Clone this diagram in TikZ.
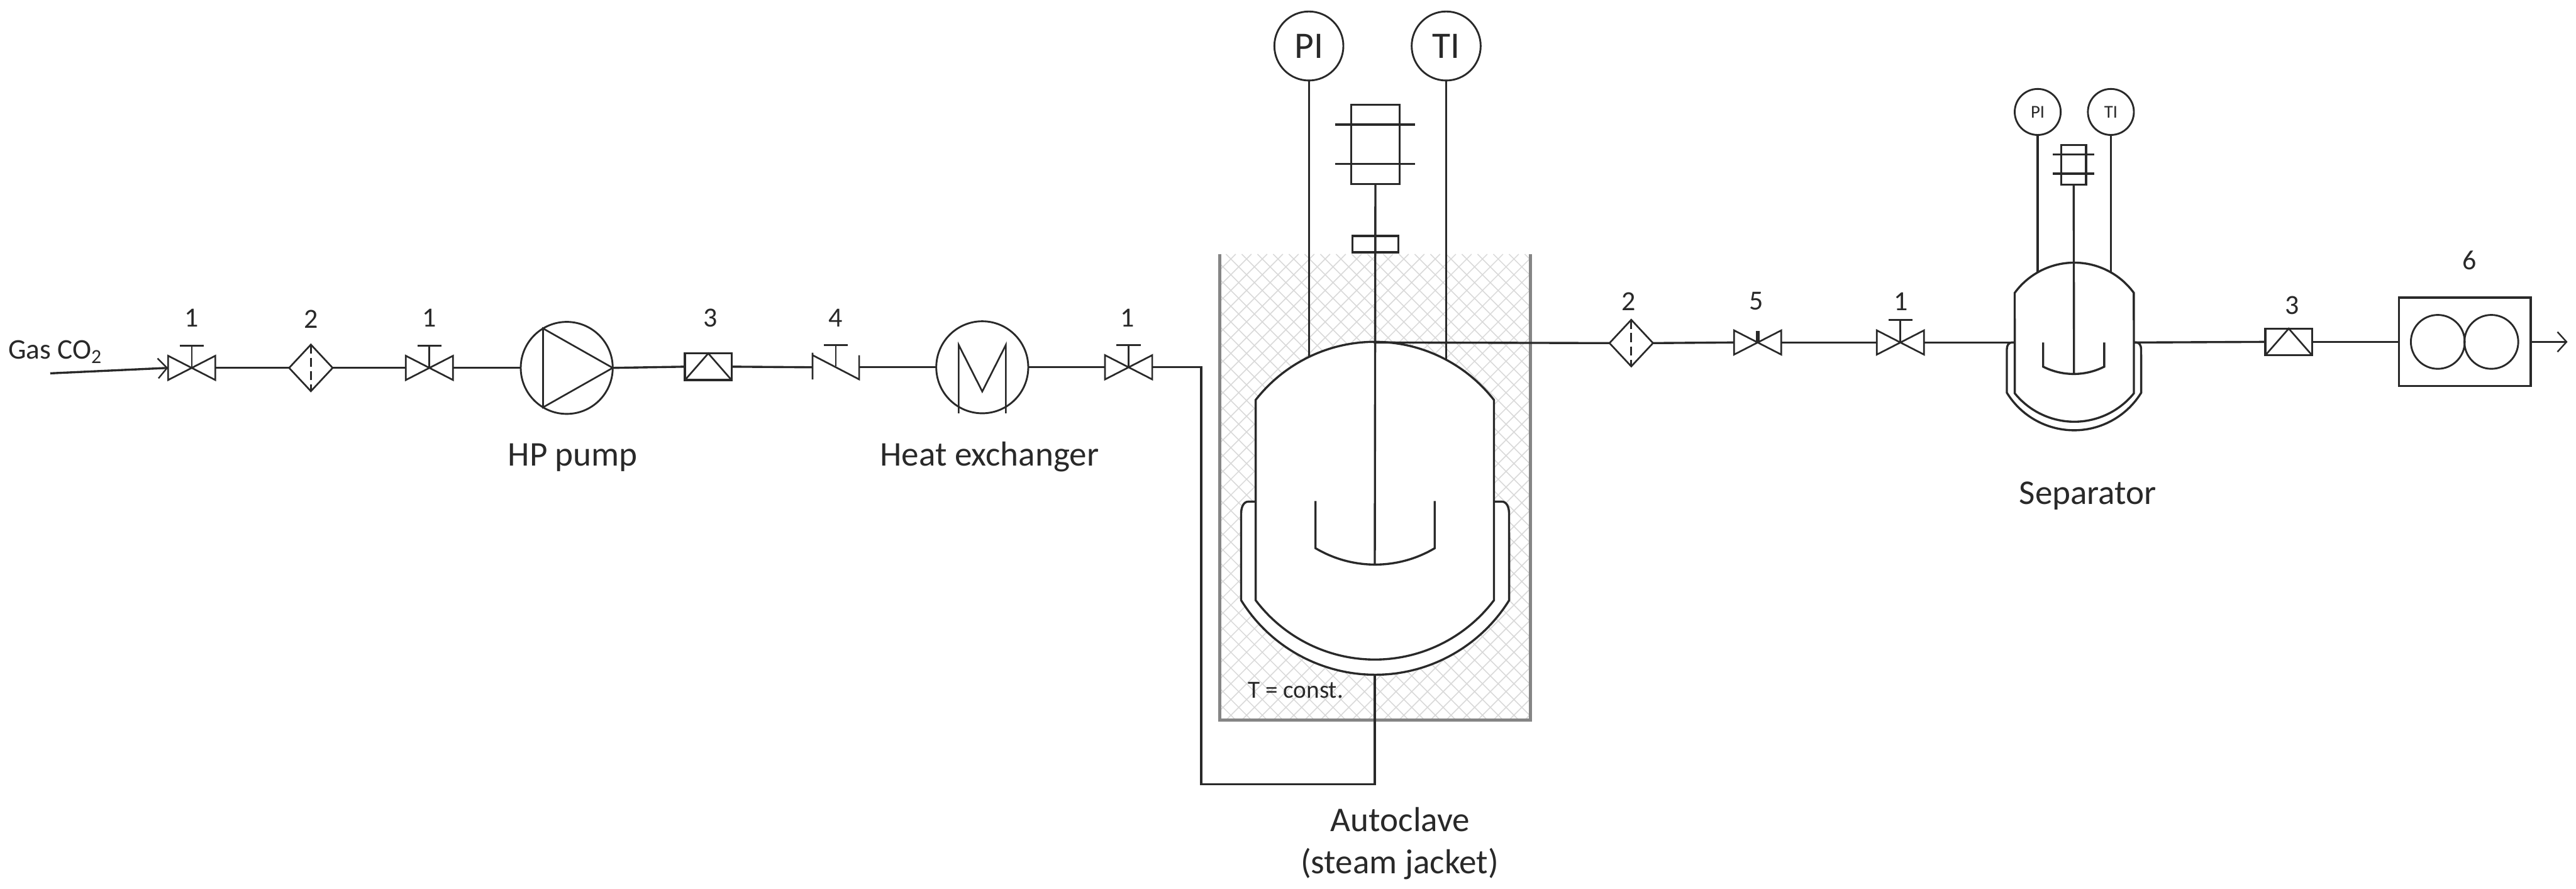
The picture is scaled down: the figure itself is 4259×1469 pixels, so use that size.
\documentclass[tikz,border=0pt]{standalone}
\usepackage{fontspec}
\setmainfont{Carlito}
\usetikzlibrary{arrows.meta}
\definecolor{ink}{gray}{0.16}
\definecolor{wall}{gray}{0.52}
\definecolor{hatch}{gray}{0.85}
\newcommand{\pxfont}[1]{\fontsize{#1}{#1}\selectfont}
\tikzset{
  x=0.01cm,y=-0.01cm,
  pipe/.style={draw=ink,line width=0.035cm},
  thin pipe/.style={draw=ink,line width=0.028cm},
  port/.style={inner sep=0pt,outer sep=0pt},
  vport/.style={port,minimum width=0.78cm,minimum height=0.38cm},
  flow/.style={pipe,-{Straight Barb[length=0.15cm,width=0.33cm,line width=0.025cm]}},
  ring/.style={circle,draw=ink,line width=0.03cm,inner sep=0pt,outer sep=0pt},
  numlabel/.style={inner sep=0pt,font=\pxfont{13pt},text=ink},
  captext/.style={inner sep=0pt,anchor=base,font=\pxfont{16.3pt},text=ink},
  gatevalve/.pic={
    \node[vport] (-b) at (0,0) {};
    \draw[thin pipe,fill=white] (-39,-20) -- (39,20) -- (39,-20) -- (-39,20) -- cycle;
    \draw[thin pipe] (0,0) -- (0,-37) (-20,-37) -- (20,-37);
  },
  needlevalve/.pic={
    \node[vport] (-b) at (0,0) {};
    \draw[thin pipe,fill=white] (-39,-20) -- (39,20) -- (39,-20) -- (-39,20) -- cycle;
    \draw[draw=ink,line width=0.06cm] (0,0) -- (0,-19);
  },
  filterbox/.pic={
    \node[port,minimum width=0.72cm,minimum height=0.77cm] (-b) at (0,0) {};
    \draw[thin pipe,fill=white] (-36,0) -- (0,-38.5) -- (36,0) -- (0,38.5) -- cycle;
    \draw[thin pipe,dash pattern=on 0.15cm off 0.07cm] (0,-38.5) -- (0,38.5);
  },
  checkbox/.pic={
    \node[port,draw=ink,line width=0.035cm,fill=white,minimum width=0.77cm,minimum height=0.44cm] (-b) at (0,0) {};
    \draw[thin pipe] (-38.5,22) -- (0,-22) -- (38.5,22);
  },
  nrvalve/.pic={
    \node[port,minimum width=0.77cm,minimum height=0.4cm] (-b) at (0,0) {};
    \draw[thin pipe] (-38.5,-24) -- (-38.5,20) (-38.5,-20) -- (38.5,20) -- (38.5,-20);
    \draw[thin pipe] (0,-2) -- (0,-37) (-20,-37) -- (20,-37);
  },
}
\begin{document}
\begin{tikzpicture}
\useasboundingbox[fill=white] (0,0) rectangle (4259,1469);

% --- tank with hatched bath
\begin{scope}
  \clip (2017,420) rectangle (2530,1190);
  \foreach \c in {1247,1273,...,2530}{
    \draw[hatch,line width=0.016cm] (\c,420) -- (\c+770,1190);
    \draw[hatch,line width=0.016cm] (\c,1190) -- (\c+770,420);
  }
\end{scope}
\draw[wall,line width=0.055cm,line join=miter] (2017,420) -- (2017,1190) -- (2530,1190) -- (2530,420);

% --- instruments
\node[ring,minimum size=1.14cm,font=\pxfont{17.6pt},text=ink] (pi1) at (2164,76) {PI};
\node[ring,minimum size=1.14cm,font=\pxfont{17.6pt},text=ink] (ti1) at (2391,76) {TI};
\node[ring,minimum size=0.76cm,font=\pxfont{8.5pt},text=ink] (pi2) at (3369,185) {PI};
\node[ring,minimum size=0.76cm,font=\pxfont{8.5pt},text=ink] (ti2) at (3490,185) {TI};

% --- autoclave
\draw[pipe,fill=white] (2076,829) -- (2064,829) .. controls (2056,829) and (2052,838) .. (2052,849)
  -- (2052,992) arc[start angle=148.1,end angle=31.9,radius=261]
  -- (2495,849) .. controls (2495,838) and (2491,829) .. (2483,829) -- (2470,829) -- cycle;
\draw[pipe,fill=white] (2076,661) arc[start angle=218,end angle=322,radius=250]
  -- (2470,992) arc[start angle=37.1,end angle=142.9,radius=247] -- cycle;
\coordinate (avtop) at (2273,565);
\coordinate (avbot) at (2273,1115);
\coordinate (avpi) at (2164,590);
\coordinate (avti) at (2391,595);
\coordinate (avimp) at (2273,933);
\draw[pipe] (2175,828) -- (2175,906) arc[start angle=120.7,end angle=59.3,radius=193] -- (2372,828);
\node[port,draw=ink,line width=0.035cm,fill=white,minimum width=0.8cm,minimum height=1.31cm] (mot1) at (2274,238.5) {};
\draw[pipe] (2207,206) -- (2340,206) (2207,271) -- (2340,271);
\node[port,draw=ink,line width=0.035cm,fill=white,minimum width=0.76cm,minimum height=0.27cm] (seal) at (2274,403.5) {};
\draw[pipe] (mot1.south) -- (avimp);
\draw[pipe] (pi1.south) -- (avpi);
\draw[pipe] (ti1.south) -- (avti);

% --- separator
\draw[pipe,fill=white] (3331,566) -- (3326,566) .. controls (3321,566) and (3318,571) .. (3318,577)
  -- (3318,649) arc[start angle=148.4,end angle=31.6,radius=130.4]
  -- (3540,577) .. controls (3540,571) and (3537,566) .. (3532,566) -- (3528,566) -- cycle;
\draw[pipe,fill=white] (3331,484) arc[start angle=216.2,end angle=323.8,radius=122]
  -- (3528,650) arc[start angle=39,end angle=141,radius=126.7] -- cycle;
\coordinate (septop) at (3429,434);
\coordinate (sepin) at (3331,566);
\coordinate (sepout) at (3528,566);
\coordinate (sepimp) at (3429,618);
\coordinate (seppi) at (3369,449);
\coordinate (septi) at (3490,450);
\draw[pipe] (3378,566) -- (3378,606) arc[start angle=116.8,end angle=63.2,radius=112] -- (3479,566);
\node[port,draw=ink,line width=0.035cm,fill=white,minimum width=0.41cm,minimum height=0.65cm] (mot2) at (3428.5,272.5) {};
\draw[pipe] (3394,255) -- (3463,255) (3394,287) -- (3463,287);
\draw[pipe] (mot2.south) -- (sepimp);
\draw[pipe] (pi2.south) -- (seppi);
\draw[pipe] (ti2.south) -- (septi);

% --- line equipment
\pic (v1) at (317,608) {gatevalve};
\pic (f1) at (514,608) {filterbox};
\pic (v2) at (710,608) {gatevalve};
\node[ring,minimum size=1.52cm] (pump) at (937,608) {};
\draw[thin pipe] (pump.east) -- (pump.121) -- (pump.239) -- cycle;
\pic (c1) at (1171,606) {checkbox};
\pic (nr) at (1382,607) {nrvalve};
\node[ring,minimum size=1.52cm] (hx) at (1624,607) {};
\draw[thin pipe] (1585,683) -- (1585,570) -- (1624,647) -- (1663,570) -- (1663,683);
\pic (v3) at (1866,607) {gatevalve};
\pic (f2) at (2697,567) {filterbox};
\pic (v4) at (2906,566) {needlevalve};
\pic (v5) at (3142,566) {gatevalve};
\pic (c2) at (3784,565) {checkbox};
\node[port,draw=ink,line width=0.035cm,minimum width=2.18cm,minimum height=1.46cm] (rp) at (4075,565) {};
\node[ring,minimum size=0.89cm] (rpa) at (4030.5,565) {};
\node[ring,minimum size=0.89cm] (rpb) at (4119,565) {};

% --- connectors
\coordinate (gasin) at (83,617);
\coordinate (ret1) at (1986,607);
\coordinate (ret2) at (1986,1296);
\coordinate (ret3) at (2273,1296);
\coordinate (out) at (4245,565);
\draw[flow] (gasin) -- (v1-b.west);
\draw[pipe] (v1-b.east) -- (f1-b.west);
\draw[pipe] (f1-b.east) -- (v2-b.west);
\draw[pipe] (v2-b.east) -- (pump.west);
\draw[pipe] (pump.east) -- (c1-b.west);
\draw[pipe] (c1-b.east) -- (nr-b.west);
\draw[pipe] (nr-b.east) -- (hx.west);
\draw[pipe] (hx.east) -- (v3-b.west);
\draw[pipe,line join=miter] (v3-b.east) -- (ret1) -- (ret2) -- (ret3) -- (avbot);
\draw[pipe] (avtop) -- (2273,566) -- (f2-b.west);
\draw[pipe] (f2-b.east) -- (v4-b.west);
\draw[pipe] (v4-b.east) -- (v5-b.west);
\draw[pipe] (v5-b.east) -- (sepin);
\draw[pipe] (sepout) -- (c2-b.west);
\draw[pipe] (c2-b.east) -- (rp.west);
\draw[flow] (rp.east) -- (out);

% --- labels
\node[numlabel] (n1) at (317,525) {1};
\node[numlabel] (n2) at (514,527) {2};
\node[numlabel] (n3) at (710,525) {1};
\node[numlabel] (n4) at (1175,525) {3};
\node[numlabel] (n5) at (1381,525) {4};
\node[numlabel] (n6) at (1864,525) {1};
\node[numlabel] (n7) at (2693,498) {2};
\node[numlabel] (n8) at (2904,498) {5};
\node[numlabel] (n9) at (3143,498) {1};
\node[numlabel] (n10) at (3790,505) {3};
\node[numlabel] (n11) at (4083,430) {6};
\node[inner sep=0pt,anchor=base west,font=\pxfont{13.4pt},text=ink] (gas) at (13,593) {Gas CO\textsubscript{2}};
\node[captext] (hp) at (947,770) {HP pump};
\node[captext] (hxl) at (1636,770) {Heat exchanger};
\node[captext] (ac1) at (2315,1374) {Autoclave};
\node[captext] (ac2) at (2314,1444) {(steam jacket)};
\node[captext] (sep) at (3452,833) {Separator};
\node[captext,font=\pxfont{11.6pt}] (tc) at (2142,1154) {T = const.};
\end{tikzpicture}
\end{document}
